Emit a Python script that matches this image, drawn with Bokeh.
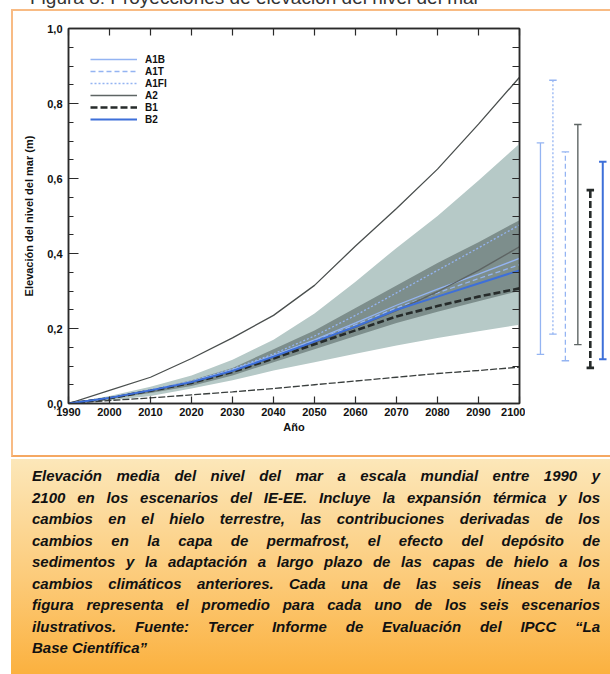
from bokeh.plotting import figure
from bokeh.models import Range1d, LinearAxis, SingleIntervalTicker, FixedTicker, Legend, LegendItem, Div
from bokeh.layouts import column, row
from bokeh.embed import file_html
from bokeh.resources import INLINE

# ---------------- data ----------------
years = [1990, 2000, 2010, 2020, 2030, 2040, 2050, 2060, 2070, 2080, 2090, 2100]

upper_env = [0.0, 0.035, 0.07, 0.12, 0.175, 0.235, 0.315, 0.42, 0.52, 0.625, 0.745, 0.87]
lower_env = [0.0, 0.008, 0.015, 0.023, 0.031, 0.04, 0.05, 0.06, 0.07, 0.08, 0.088, 0.097]

light_hi = [0.0, 0.02, 0.045, 0.075, 0.117, 0.17, 0.24, 0.325, 0.415, 0.50, 0.595, 0.693]
light_lo = [0.0, 0.008, 0.02, 0.04, 0.062, 0.088, 0.11, 0.133, 0.155, 0.175, 0.193, 0.21]
dark_hi = [0.0, 0.017, 0.037, 0.062, 0.095, 0.145, 0.195, 0.255, 0.315, 0.375, 0.43, 0.489]
dark_lo = [0.0, 0.012, 0.028, 0.047, 0.075, 0.11, 0.145, 0.18, 0.215, 0.245, 0.273, 0.30]

a1b = [0.0, 0.015, 0.036, 0.058, 0.09, 0.128, 0.17, 0.215, 0.262, 0.305, 0.345, 0.387]
a1t = [0.0, 0.015, 0.036, 0.058, 0.09, 0.128, 0.168, 0.21, 0.255, 0.295, 0.333, 0.37]
a1fi = [0.0, 0.015, 0.036, 0.06, 0.092, 0.132, 0.18, 0.235, 0.295, 0.355, 0.415, 0.476]
a2 = [0.0, 0.014, 0.034, 0.056, 0.086, 0.123, 0.162, 0.203, 0.248, 0.298, 0.355, 0.418]
b1 = [0.0, 0.014, 0.034, 0.055, 0.084, 0.12, 0.158, 0.195, 0.232, 0.26, 0.285, 0.307]
b2 = [0.0, 0.015, 0.035, 0.057, 0.087, 0.125, 0.165, 0.205, 0.25, 0.285, 0.32, 0.355]

bar_names = ["A1B", "A1FI", "A1T", "A2", "B1", "B2"]
bar_lo = [0.131, 0.185, 0.114, 0.157, 0.095, 0.118]
bar_hi = [0.695, 0.862, 0.671, 0.744, 0.569, 0.645]

legend_names = ["A1B", "A1T", "A1FI", "A2", "B1", "B2"]
y_ticks = [0.0, 0.2, 0.4, 0.6, 0.8, 1.0]
y_tick_labels = ["0,0", "0,2", "0,4", "0,6", "0,8", "1,0"]

title_text = "Figura 8: Proyecciones de elevación del nivel del mar"
caption_lines = [
    "Elevación media del nivel del mar a escala mundial entre 1990 y",
    "2100 en los escenarios del IE-EE. Incluye la expansión térmica y los",
    "cambios en el hielo terrestre, las contribuciones derivadas de los",
    "cambios en la capa de permafrost, el efecto del depósito de",
    "sedimentos y la adaptación a largo plazo de las capas de hielo a los",
    "cambios climáticos anteriores. Cada una de las seis líneas de la",
    "figura representa el promedio para cada uno de los seis escenarios",
    "ilustrativos. Fuente: Tercer Informe de Evaluación del IPCC “La",
    "Base Científica”",
]

# ---------------- styles ----------------
FONT = "Liberation Sans"
AX = "#2a2a2a"
LIGHT_BLUE = "#94B4F2"
BLUE = "#3D6FD9"
GRAY = "#5E6564"
DARK = "#262B2A"
series_style = {
    "A1B": dict(line_color=LIGHT_BLUE, line_width=1.3, line_dash="solid"),
    "A1T": dict(line_color=LIGHT_BLUE, line_width=1.3, line_dash="5 3"),
    "A1FI": dict(line_color=LIGHT_BLUE, line_width=1.3, line_dash="2 2"),
    "A2": dict(line_color=GRAY, line_width=1.4, line_dash="solid"),
    "B1": dict(line_color=DARK, line_width=2.6, line_dash="7 3"),
    "B2": dict(line_color=BLUE, line_width=2.0, line_dash="solid"),
}

# ---------------- main chart ----------------
p = figure(width=512, height=444, x_range=Range1d(1990, 2100), y_range=Range1d(0, 1.0),
           output_backend="svg", toolbar_location=None,
           min_border_left=55, min_border_right=6, min_border_top=17, min_border_bottom=52)
p.grid.visible = False
p.outline_line_color = AX
p.outline_line_width = 1.5
p.background_fill_color = "white"
p.border_fill_color = "white"

p.varea(x=years, y1=light_lo, y2=light_hi, fill_color="#B6C9C7")
p.varea(x=years, y1=dark_lo, y2=dark_hi, fill_color="#7D8E8C")

p.line(years, upper_env, line_color="#4A4F4E", line_width=1.3)
p.line(years, lower_env, line_color="#3A3F3E", line_width=1.3, line_dash="7 2")

series = {"A1B": a1b, "A1T": a1t, "A1FI": a1fi, "A2": a2, "B1": b1, "B2": b2}
draw_order = ["A1FI", "A1B", "A1T", "A2", "B1", "B2"]
renderers = {}
for name in draw_order:
    renderers[name] = p.line(years, series[name], **series_style[name])

legend = Legend(items=[LegendItem(label=n, renderers=[renderers[n]]) for n in legend_names],
                location=(22, 278), padding=0, margin=0, spacing=0,
                glyph_width=47, glyph_height=12, label_height=12, label_standoff=8,
                label_text_font=FONT, label_text_font_style="bold", label_text_font_size="10px",
                label_text_color="#111111",
                border_line_color=None, background_fill_alpha=0)
p.add_layout(legend)

def style_axis(ax):
    ax.axis_line_color = AX
    ax.axis_line_width = 1.5
    ax.major_tick_line_color = AX
    ax.minor_tick_line_color = AX
    ax.major_tick_line_width = 1.2
    ax.minor_tick_line_width = 1.2
    ax.major_tick_out = 0
    ax.minor_tick_out = 0
    ax.major_label_text_font = FONT
    ax.major_label_text_font_style = "bold"
    ax.major_label_text_font_size = "11px"
    ax.major_label_text_color = "#111111"
    ax.axis_label_text_font = FONT
    ax.axis_label_text_font_style = "bold"
    ax.axis_label_text_font_size = "11px"
    ax.axis_label_text_color = "#111111"

xa = p.xaxis[0]
xa.ticker = SingleIntervalTicker(interval=10, num_minor_ticks=0)
style_axis(xa)
xa.major_tick_in = 7
xa.minor_tick_in = 0
xa.major_label_standoff = 4
xa.axis_label = "Año"
xa.axis_label_standoff = 2

minor_y = [i * 0.05 for i in range(21)]
ya = p.yaxis[0]
ya.ticker = FixedTicker(ticks=y_ticks, minor_ticks=minor_y)
ya.major_label_overrides = dict(zip(y_ticks, y_tick_labels))
style_axis(ya)
ya.major_tick_in = 10
ya.minor_tick_in = 5
ya.major_label_standoff = 6
ya.axis_label = "Elevación del nivel del mar (m)"
ya.axis_label_standoff = 9

top_ax = LinearAxis(ticker=SingleIntervalTicker(interval=10, num_minor_ticks=0))
style_axis(top_ax)
top_ax.major_tick_in = 7
top_ax.minor_tick_in = 0
top_ax.major_label_text_font_size = "1px"
top_ax.major_label_text_color = None
top_ax.major_label_standoff = 0
p.add_layout(top_ax, "above")

right_ax = LinearAxis(ticker=FixedTicker(ticks=y_ticks, minor_ticks=minor_y))
style_axis(right_ax)
right_ax.major_tick_in = 7
right_ax.minor_tick_in = 7
right_ax.major_label_text_font_size = "1px"
right_ax.major_label_text_color = None
right_ax.major_label_standoff = 0
p.add_layout(right_ax, "right")

# ---------------- range bars (2100) ----------------
p2 = figure(width=85, height=444, x_range=Range1d(-1.2, 5.62), y_range=p.y_range,
            output_backend="svg", toolbar_location=None,
            x_axis_location=None, y_axis_location=None,
            min_border_left=0, min_border_right=0, min_border_top=17, min_border_bottom=52)
p2.grid.visible = False
p2.outline_line_color = None
p2.background_fill_color = "white"
p2.border_fill_color = "white"
for i, name in enumerate(bar_names):
    st = series_style[name]
    p2.segment(x0=[i], y0=[bar_lo[i]], x1=[i], y1=[bar_hi[i]], **st)
    p2.segment(x0=[i - 0.3, i - 0.3], y0=[bar_lo[i], bar_hi[i]], x1=[i + 0.3, i + 0.3],
               y1=[bar_lo[i], bar_hi[i]], line_color=st["line_color"],
               line_width=max(1.3, st["line_width"]))

# ---------------- page pieces ----------------
title_div = Div(text=f'<div style="transform:translateY(-13px);font-family:\'{FONT}\';font-size:19px;line-height:22px;'
                     f'color:#333;white-space:nowrap;padding-left:30px;">{title_text}</div>',
                width=610, height=9, margin=0, styles={"overflow": "visible"})

chart_row = row(p, p2, margin=0, styles={"margin-left": "11px",
                                         "border-left": "2px solid #F8BB84",
                                         "border-top": "2px solid #F8BB84",
                                         "border-bottom": "2px solid #F5A862"})

line_divs = []
for k, ln in enumerate(caption_lines):
    last = "left" if k == len(caption_lines) - 1 else "justify"
    line_divs.append(f'<div style="text-align:justify;text-align-last:{last};white-space:nowrap;">{ln}</div>')
caption_html = ('<div style="margin-left:11px;margin-top:2px;width:599px;height:215px;box-sizing:border-box;'
                'padding:6px 10px 0 21px;background:linear-gradient(180deg,#FCE7B9 0%,#FCCB7A 55%,#FBB13F 100%);'
                f'font-family:\'{FONT}\';font-style:italic;font-weight:bold;font-size:15px;'
                'line-height:21.5px;color:#111;">' + "".join(line_divs) + '</div>')
caption = Div(text=caption_html, width=610, height=217, margin=0)

layout = column(title_div, chart_row, caption)

open("out.html", "w").write(file_html(layout, INLINE))
